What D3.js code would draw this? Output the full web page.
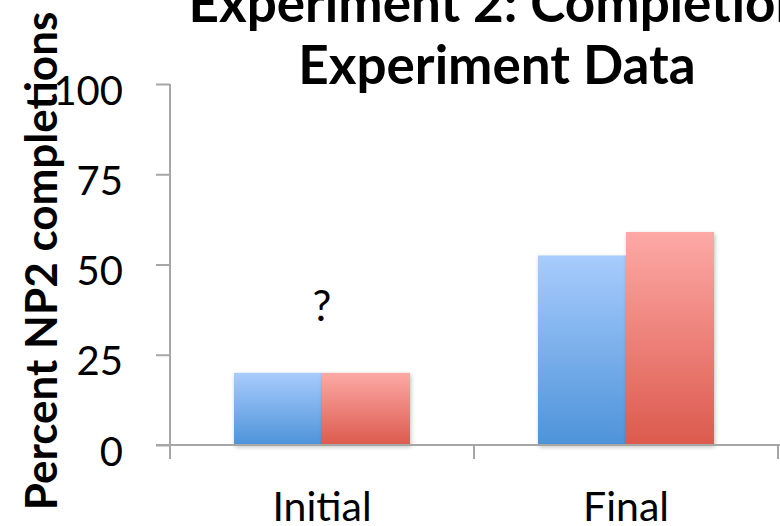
<!DOCTYPE html>
<html><head><meta charset="utf-8">
<script src="https://cdn.jsdelivr.net/npm/d3@7"></script>
<style>body{margin:0;background:#fff;}svg{display:block;}</style>
</head><body>
<svg id="c" width="780" height="526"></svg>
<script>
const categories = ["Initial", "Final"];
const seriesNames = ["Series A", "Series B"];
const seriesA = [20, 52.5];
const seriesB = [20, 59];
const yTicks = [0, 25, 50, 75, 100];
const titleLines = ["Experiment 2: Completion", "Experiment Data"];
const yLabel = "Percent NP2 completions";
const annotation = "?";

const svg = d3.select("#c");
const font = "Lato, 'Open Sans', sans-serif";
const axisColor = "#a6a6a6";

const x0 = 170, x1 = 778, yTop = 84, yBot = 445;
const x = d3.scaleBand().domain(categories).range([x0, x1]).paddingInner(0).paddingOuter(0);
const y = d3.scaleLinear().domain([0, 100]).range([yBot, yTop]);
const inner = d3.scaleBand().domain(seriesNames).range([0, 176]);

const defs = svg.append("defs");
const grads = [["gA", "#a8ccfd", "#4d93d9"], ["gB", "#fda9a6", "#dc5a4d"]];
grads.forEach(([id, c1, c2]) => {
  const g = defs.append("linearGradient").attr("id", id).attr("x1", 0).attr("y1", 0).attr("x2", 0).attr("y2", 1);
  g.append("stop").attr("offset", "0%").attr("stop-color", c1);
  g.append("stop").attr("offset", "100%").attr("stop-color", c2);
});
const f = defs.append("filter").attr("id", "sh").attr("x", "-10%").attr("y", "-10%").attr("width", "130%").attr("height", "130%");
f.append("feDropShadow").attr("dx", 1).attr("dy", 2).attr("stdDeviation", 2).attr("flood-color", "#000").attr("flood-opacity", 0.25);

// bars
const data = [];
categories.forEach((c, i) => {
  data.push({cat: c, s: seriesNames[0], v: seriesA[i], fill: "url(#gA)"});
  data.push({cat: c, s: seriesNames[1], v: seriesB[i], fill: "url(#gB)"});
});
const groupOffset = (x.bandwidth() - 176) / 2;
svg.append("g").selectAll("rect").data(data).join("rect")
  .attr("x", d => x(d.cat) + groupOffset + inner(d.s))
  .attr("y", d => y(d.v))
  .attr("width", inner.bandwidth())
  .attr("height", d => y(0) - y(d.v))
  .attr("fill", d => d.fill)
  .attr("filter", "url(#sh)");

// y axis
const yAxis = svg.append("g").attr("transform", `translate(${x0},0)`)
  .call(d3.axisLeft(y).tickValues(yTicks).tickSize(14).tickPadding(32).tickFormat(d3.format("d")));
yAxis.select(".domain").remove();
yAxis.append("line").attr("x1", 0).attr("x2", 0).attr("y1", yTop).attr("y2", yBot + 14).attr("stroke", axisColor).attr("stroke-width", 2);
yAxis.selectAll(".tick line").attr("stroke", axisColor).attr("stroke-width", 2);
yAxis.selectAll(".tick text").attr("font-family", font).attr("font-size", 40).attr("fill", "#000").attr("dy", "0.5em").attr("x", -47);

// x axis
const xAxis = svg.append("g").attr("transform", `translate(0,${yBot})`);
xAxis.append("line").attr("x1", 156).attr("x2", 780).attr("y1", 0).attr("y2", 0).attr("stroke", axisColor).attr("stroke-width", 2);
const xEdges = categories.map(c => x(c)).concat([x1]);
xAxis.selectAll("line.t").data(xEdges).join("line").attr("class", "t")
  .attr("x1", d => d).attr("x2", d => d).attr("y1", 0).attr("y2", 14)
  .attr("stroke", axisColor).attr("stroke-width", 2);
xAxis.selectAll("text").data(categories).join("text")
  .attr("x", d => x(d) + x.bandwidth() / 2).attr("y", 76)
  .attr("text-anchor", "middle").attr("font-family", font).attr("font-size", 41).attr("fill", "#000")
  .text(d => d);

// annotation
svg.append("text").attr("x", x(categories[0]) + x.bandwidth() / 2).attr("y", 321)
  .attr("text-anchor", "middle").attr("font-family", font).attr("font-size", 42).text(annotation);

// title
svg.append("g").selectAll("text").data(titleLines).join("text")
  .attr("x", 497).attr("y", (d, i) => 22 + i * 62)
  .attr("text-anchor", "middle").attr("font-family", font).attr("font-weight", "bold").attr("font-size", 53)
  .text(d => d);

// y label
svg.append("text").attr("transform", "translate(57,261) rotate(-90)")
  .attr("text-anchor", "middle").attr("font-family", font).attr("font-weight", "bold").attr("font-size", 44)
  .text(yLabel);
</script>
</body></html>
